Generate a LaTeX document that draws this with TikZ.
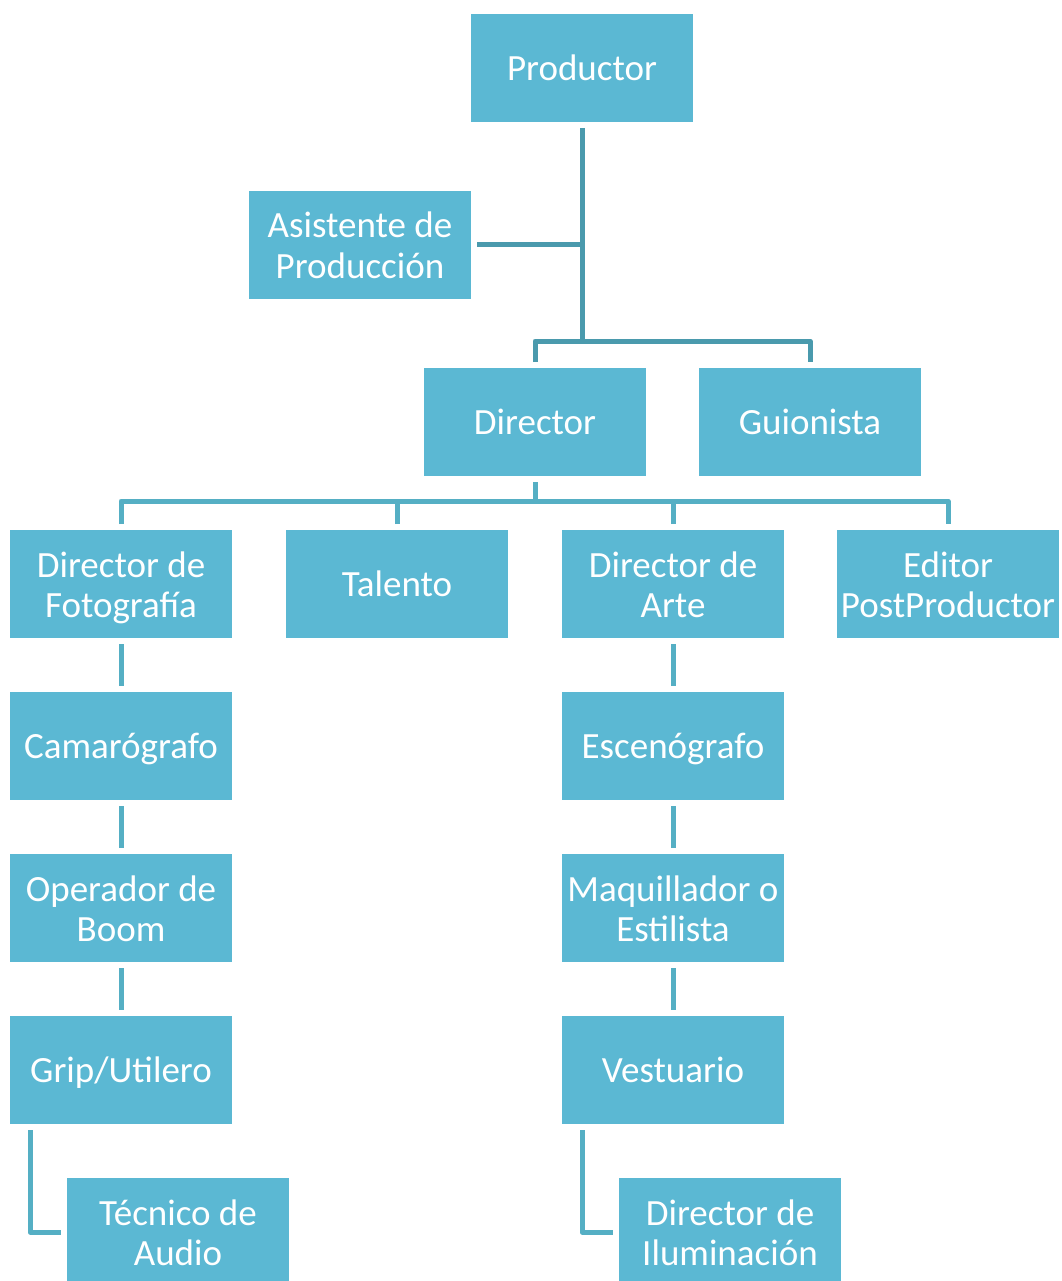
\documentclass[tikz,border=0pt]{standalone}
\usepackage{fontspec}
\setmainfont{Carlito}
\definecolor{boxblue}{HTML}{5BB8D3}
\definecolor{linedark}{HTML}{4A9AAD}
\definecolor{linelight}{HTML}{55AFC4}

\begin{document}
\begin{tikzpicture}[
  x=1pt, y=-1pt,
  role/.style={fill=boxblue, text=white, minimum width=222pt, minimum height=108pt,
    inner sep=0pt, outer sep=6pt, align=center, font=\fontsize{37}{40}\selectfont,
    text height=36pt, text depth=11pt},
  tworole/.style={role, text height=66pt, text depth=0pt},
  link/.style={draw=linelight, line width=5pt, line join=round},
  toplink/.style={link, draw=linedark}
]
\useasboundingbox (0,0) rectangle (1061,1281);
\clip (0,0) rectangle (1061,1281);

% Nodes
\node[role] (prod) at (582,68) {Productor};
\node[tworole] (asis) at (360,245) {Asistente de\\Producción};
\node[role] (dir) at (535,422) {Director};
\node[role] (guion) at (810,422) {Guionista};
\node[tworole] (foto) at (121,584) {Director de\\Fotografía};
\node[role] (tal) at (397,584) {Talento};
\node[tworole] (arte) at (673,584) {Director de\\Arte};
\node[tworole] (edit) at (948,584) {Editor\\PostProductor};
\node[role] (cam) at (121,746) {Camarógrafo};
\node[tworole] (boom) at (121,908) {Operador de\\Boom};
\node[role] (grip) at (121,1070) {Grip/Utilero};
\node[tworole] (tec) at (178,1232) {Técnico de\\Audio};
\node[role] (esc) at (673,746) {Escenógrafo};
\node[tworole] (maq) at (673,908) {Maquillador o\\Estilista};
\node[role] (vest) at (673,1070) {Vestuario};
\node[tworole] (ilum) at (730,1232) {Director de\\Iluminación};

% Productor branch
\coordinate (b1) at (582,341);
\draw[toplink] (prod.south) -- (b1);
\draw[toplink] (asis.east) -- (asis.east -| b1);
\draw[toplink] (dir.north) |- (b1) -| (guion.north);

% Director branch
\coordinate (b2) at (535,501);
\draw[link] (dir.south) -- (b2);
\draw[link] (foto.north) |- (b2) -| (edit.north);
\draw[link] (tal.north) -- (tal.north |- b2);
\draw[link] (arte.north) -- (arte.north |- b2);

% Columns
\draw[link] (foto.south) -- (cam.north);
\draw[link] (cam.south) -- (boom.north);
\draw[link] (boom.south) -- (grip.north);
\draw[link] (grip.south) ++(-91,0) |- (tec.west);
\draw[link] (arte.south) -- (esc.north);
\draw[link] (esc.south) -- (maq.north);
\draw[link] (maq.south) -- (vest.north);
\draw[link] (vest.south) ++(-91,0) |- (ilum.west);

\end{tikzpicture}
\end{document}
